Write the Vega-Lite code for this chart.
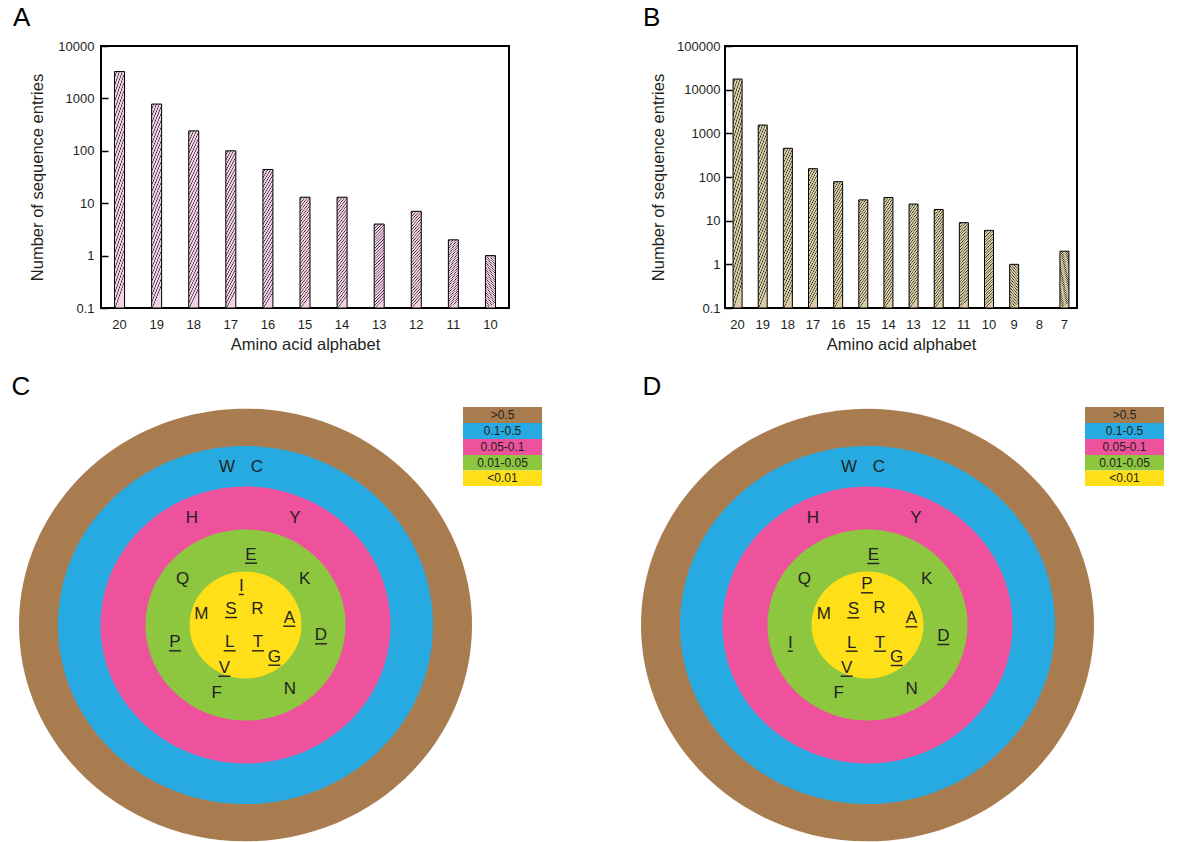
{
  "$schema": "https://vega.github.io/schema/vega-lite/v6.json",
  "background": "white",
  "padding": {"left": 11, "top": 4, "right": 0, "bottom": 0},
  "config": {
    "font": "Liberation Sans",
    "axis": {"labelFont": "Liberation Sans", "titleFont": "Liberation Sans", "labelFontSize": 13, "titleFontSize": 16.5, "titleFontWeight": "normal", "labelColor": "#231F20", "titleColor": "#231F20", "tickColor": "black", "tickWidth": 1.5, "grid": false},
    "title": {"font": "Liberation Sans", "fontWeight": "normal", "color": "black"}
  },
  "datasets": {
    "barsA": [
      {"alphabet": "20", "entries": 3250}, {"alphabet": "19", "entries": 780}, {"alphabet": "18", "entries": 240},
      {"alphabet": "17", "entries": 100}, {"alphabet": "16", "entries": 44}, {"alphabet": "15", "entries": 13},
      {"alphabet": "14", "entries": 13}, {"alphabet": "13", "entries": 4}, {"alphabet": "12", "entries": 7},
      {"alphabet": "11", "entries": 2}, {"alphabet": "10", "entries": 1}
    ],
    "barsB": [
      {"alphabet": "20", "entries": 17500}, {"alphabet": "19", "entries": 1550}, {"alphabet": "18", "entries": 455},
      {"alphabet": "17", "entries": 155}, {"alphabet": "16", "entries": 78}, {"alphabet": "15", "entries": 30},
      {"alphabet": "14", "entries": 34}, {"alphabet": "13", "entries": 24}, {"alphabet": "12", "entries": 18},
      {"alphabet": "11", "entries": 9}, {"alphabet": "10", "entries": 6}, {"alphabet": "9", "entries": 1},
      {"alphabet": "8", "entries": null}, {"alphabet": "7", "entries": 2}
    ],
    "rings": [
      {"panel": "C", "level": ">0.5", "u": 0, "v": 0, "r": 1},
      {"panel": "C", "level": "0.1-0.5", "u": 0, "v": 0, "r": 0.8278},
      {"panel": "C", "level": "0.05-0.1", "u": 0, "v": 0, "r": 0.6402},
      {"panel": "C", "level": "0.01-0.05", "u": 0, "v": 0, "r": 0.4415},
      {"panel": "C", "level": "<0.01", "u": 0, "v": 0, "r": 0.2472},
      {"panel": "D", "level": ">0.5", "u": 2.7461, "v": 0, "r": 1},
      {"panel": "D", "level": "0.1-0.5", "u": 2.7461, "v": 0, "r": 0.8278},
      {"panel": "D", "level": "0.05-0.1", "u": 2.7461, "v": 0, "r": 0.6402},
      {"panel": "D", "level": "0.01-0.05", "u": 2.7461, "v": 0, "r": 0.4415},
      {"panel": "D", "level": "<0.01", "u": 2.7461, "v": 0, "r": 0.2472}
    ],
    "legend": [
      {"panel": "C", "level": ">0.5", "u": 0.9603, "u2": 1.3091, "v": 0.9625, "v2": 0.8918, "um": 1.1347, "vm": 0.9272},
      {"panel": "C", "level": "0.1-0.5", "u": 0.9603, "u2": 1.3091, "v": 0.8918, "v2": 0.8212, "um": 1.1347, "vm": 0.8565},
      {"panel": "C", "level": "0.05-0.1", "u": 0.9603, "u2": 1.3091, "v": 0.8212, "v2": 0.7506, "um": 1.1347, "vm": 0.7859},
      {"panel": "C", "level": "0.01-0.05", "u": 0.9603, "u2": 1.3091, "v": 0.7506, "v2": 0.6821, "um": 1.1347, "vm": 0.7164},
      {"panel": "C", "level": "<0.01", "u": 0.9603, "u2": 1.3091, "v": 0.6821, "v2": 0.6137, "um": 1.1347, "vm": 0.6479},
      {"panel": "D", "level": ">0.5", "u": 3.7064, "u2": 4.0552, "v": 0.9625, "v2": 0.8918, "um": 3.8808, "vm": 0.9272},
      {"panel": "D", "level": "0.1-0.5", "u": 3.7064, "u2": 4.0552, "v": 0.8918, "v2": 0.8212, "um": 3.8808, "vm": 0.8565},
      {"panel": "D", "level": "0.05-0.1", "u": 3.7064, "u2": 4.0552, "v": 0.8212, "v2": 0.7506, "um": 3.8808, "vm": 0.7859},
      {"panel": "D", "level": "0.01-0.05", "u": 3.7064, "u2": 4.0552, "v": 0.7506, "v2": 0.6821, "um": 3.8808, "vm": 0.7164},
      {"panel": "D", "level": "<0.01", "u": 3.7064, "u2": 4.0552, "v": 0.6821, "v2": 0.6137, "um": 3.8808, "vm": 0.6479}
    ],
    "letters": [
      {"panel": "C", "letter": "W", "u": -0.0817, "v": 0.6976, "ul": false},
      {"panel": "C", "letter": "C", "u": 0.0508, "v": 0.6976, "ul": false},
      {"panel": "C", "letter": "H", "u": -0.2362, "v": 0.4724, "ul": false},
      {"panel": "C", "letter": "Y", "u": 0.2185, "v": 0.4724, "ul": false},
      {"panel": "C", "letter": "E", "u": 0.0243, "v": 0.3104, "ul": true},
      {"panel": "C", "letter": "Q", "u": -0.2773, "v": 0.2018, "ul": false},
      {"panel": "C", "letter": "K", "u": 0.2614, "v": 0.2044, "ul": false},
      {"panel": "C", "letter": "I", "u": -0.0185, "v": 0.1722, "ul": true},
      {"panel": "C", "letter": "M", "u": -0.1951, "v": 0.0486, "ul": false},
      {"panel": "C", "letter": "S", "u": -0.064, "v": 0.0706, "ul": true},
      {"panel": "C", "letter": "R", "u": 0.0521, "v": 0.072, "ul": false},
      {"panel": "C", "letter": "A", "u": 0.1934, "v": 0.0322, "ul": true},
      {"panel": "C", "letter": "P", "u": -0.3113, "v": -0.0764, "ul": true},
      {"panel": "C", "letter": "D", "u": 0.3333, "v": -0.0455, "ul": true},
      {"panel": "C", "letter": "L", "u": -0.0698, "v": -0.0764, "ul": true},
      {"panel": "C", "letter": "T", "u": 0.0552, "v": -0.0764, "ul": true},
      {"panel": "C", "letter": "G", "u": 0.1272, "v": -0.14, "ul": true},
      {"panel": "C", "letter": "V", "u": -0.0936, "v": -0.1885, "ul": true},
      {"panel": "C", "letter": "F", "u": -0.1272, "v": -0.2989, "ul": false},
      {"panel": "C", "letter": "N", "u": 0.1965, "v": -0.2839, "ul": false},
      {"panel": "D", "letter": "W", "u": 2.6645, "v": 0.6976, "ul": false},
      {"panel": "D", "letter": "C", "u": 2.7969, "v": 0.6976, "ul": false},
      {"panel": "D", "letter": "H", "u": 2.5055, "v": 0.4724, "ul": false},
      {"panel": "D", "letter": "Y", "u": 2.9603, "v": 0.4724, "ul": false},
      {"panel": "D", "letter": "E", "u": 2.7717, "v": 0.3091, "ul": true},
      {"panel": "D", "letter": "Q", "u": 2.4671, "v": 0.2018, "ul": false},
      {"panel": "D", "letter": "K", "u": 3.0075, "v": 0.2044, "ul": false},
      {"panel": "D", "letter": "P", "u": 2.7439, "v": 0.1797, "ul": true},
      {"panel": "D", "letter": "M", "u": 2.5528, "v": 0.0472, "ul": false},
      {"panel": "D", "letter": "S", "u": 2.6834, "v": 0.0693, "ul": true},
      {"panel": "D", "letter": "R", "u": 2.7982, "v": 0.0737, "ul": false},
      {"panel": "D", "letter": "A", "u": 2.9395, "v": 0.0296, "ul": true},
      {"panel": "D", "letter": "I", "u": 2.4053, "v": -0.0781, "ul": true},
      {"panel": "D", "letter": "D", "u": 3.0808, "v": -0.0486, "ul": true},
      {"panel": "D", "letter": "L", "u": 2.6764, "v": -0.0781, "ul": true},
      {"panel": "D", "letter": "T", "u": 2.8013, "v": -0.0781, "ul": true},
      {"panel": "D", "letter": "G", "u": 2.8751, "v": -0.1413, "ul": true},
      {"panel": "D", "letter": "V", "u": 2.6543, "v": -0.1885, "ul": true},
      {"panel": "D", "letter": "F", "u": 2.619, "v": -0.2989, "ul": false},
      {"panel": "D", "letter": "N", "u": 2.9413, "v": -0.2839, "ul": false}
    ],
    "panels": [
      {"label": "C", "u": -0.9912, "v": 1.0486},
      {"label": "D", "u": 1.7947, "v": 1.0486}
    ]
  },
  "vconcat": [
    {
      "hconcat": [
        {
          "width": 408,
          "height": 262,
          "view": {"stroke": "black", "strokeWidth": 2},
          "title": {"text": "A", "anchor": "start", "frame": "group", "dx": -88, "fontSize": 26, "baseline": "alphabetic", "offset": -12},
          "data": {"name": "barsA"},
          "mark": {
            "type": "bar", "size": 10, "stroke": "black", "strokeWidth": 1,
            "fill": {"gradient": "linear", "x1": 0, "y1": 0, "x2": 0.12, "y2": 1, "stops": [
              {"offset": 0, "color": "#F1D3E5"}, {"offset": 0.0167, "color": "#F1D3E5"}, {"offset": 0.025, "color": "#2B1F27"},
              {"offset": 0.0333, "color": "#F1D3E5"}, {"offset": 0.05, "color": "#F1D3E5"}, {"offset": 0.0583, "color": "#2B1F27"},
              {"offset": 0.0667, "color": "#F1D3E5"}, {"offset": 0.0833, "color": "#F1D3E5"}, {"offset": 0.0917, "color": "#2B1F27"},
              {"offset": 0.1, "color": "#F1D3E5"}, {"offset": 0.1167, "color": "#F1D3E5"}, {"offset": 0.125, "color": "#2B1F27"},
              {"offset": 0.1333, "color": "#F1D3E5"}, {"offset": 0.15, "color": "#F1D3E5"}, {"offset": 0.1583, "color": "#2B1F27"},
              {"offset": 0.1667, "color": "#F1D3E5"}, {"offset": 0.1833, "color": "#F1D3E5"}, {"offset": 0.1917, "color": "#2B1F27"},
              {"offset": 0.2, "color": "#F1D3E5"}, {"offset": 0.2167, "color": "#F1D3E5"}, {"offset": 0.225, "color": "#2B1F27"},
              {"offset": 0.2333, "color": "#F1D3E5"}, {"offset": 0.25, "color": "#F1D3E5"}, {"offset": 0.2583, "color": "#2B1F27"},
              {"offset": 0.2667, "color": "#F1D3E5"}, {"offset": 0.2833, "color": "#F1D3E5"}, {"offset": 0.2917, "color": "#2B1F27"},
              {"offset": 0.3, "color": "#F1D3E5"}, {"offset": 0.3167, "color": "#F1D3E5"}, {"offset": 0.325, "color": "#2B1F27"},
              {"offset": 0.3333, "color": "#F1D3E5"}, {"offset": 0.35, "color": "#F1D3E5"}, {"offset": 0.3583, "color": "#2B1F27"},
              {"offset": 0.3667, "color": "#F1D3E5"}, {"offset": 0.3833, "color": "#F1D3E5"}, {"offset": 0.3917, "color": "#2B1F27"},
              {"offset": 0.4, "color": "#F1D3E5"}, {"offset": 0.4167, "color": "#F1D3E5"}, {"offset": 0.425, "color": "#2B1F27"},
              {"offset": 0.4333, "color": "#F1D3E5"}, {"offset": 0.45, "color": "#F1D3E5"}, {"offset": 0.4583, "color": "#2B1F27"},
              {"offset": 0.4667, "color": "#F1D3E5"}, {"offset": 0.4833, "color": "#F1D3E5"}, {"offset": 0.4917, "color": "#2B1F27"},
              {"offset": 0.5, "color": "#F1D3E5"}, {"offset": 0.5167, "color": "#F1D3E5"}, {"offset": 0.525, "color": "#2B1F27"},
              {"offset": 0.5333, "color": "#F1D3E5"}, {"offset": 0.55, "color": "#F1D3E5"}, {"offset": 0.5583, "color": "#2B1F27"},
              {"offset": 0.5667, "color": "#F1D3E5"}, {"offset": 0.5833, "color": "#F1D3E5"}, {"offset": 0.5917, "color": "#2B1F27"},
              {"offset": 0.6, "color": "#F1D3E5"}, {"offset": 0.6167, "color": "#F1D3E5"}, {"offset": 0.625, "color": "#2B1F27"},
              {"offset": 0.6333, "color": "#F1D3E5"}, {"offset": 0.65, "color": "#F1D3E5"}, {"offset": 0.6583, "color": "#2B1F27"},
              {"offset": 0.6667, "color": "#F1D3E5"}, {"offset": 0.6833, "color": "#F1D3E5"}, {"offset": 0.6917, "color": "#2B1F27"},
              {"offset": 0.7, "color": "#F1D3E5"}, {"offset": 0.7167, "color": "#F1D3E5"}, {"offset": 0.725, "color": "#2B1F27"},
              {"offset": 0.7333, "color": "#F1D3E5"}, {"offset": 0.75, "color": "#F1D3E5"}, {"offset": 0.7583, "color": "#2B1F27"},
              {"offset": 0.7667, "color": "#F1D3E5"}, {"offset": 0.7833, "color": "#F1D3E5"}, {"offset": 0.7917, "color": "#2B1F27"},
              {"offset": 0.8, "color": "#F1D3E5"}, {"offset": 0.8167, "color": "#F1D3E5"}, {"offset": 0.825, "color": "#2B1F27"},
              {"offset": 0.8333, "color": "#F1D3E5"}, {"offset": 0.85, "color": "#F1D3E5"}, {"offset": 0.8583, "color": "#2B1F27"},
              {"offset": 0.8667, "color": "#F1D3E5"}, {"offset": 0.8833, "color": "#F1D3E5"}, {"offset": 0.8917, "color": "#2B1F27"},
              {"offset": 0.9, "color": "#F1D3E5"}, {"offset": 0.9167, "color": "#F1D3E5"}, {"offset": 0.925, "color": "#2B1F27"},
              {"offset": 0.9333, "color": "#F1D3E5"}, {"offset": 0.95, "color": "#F1D3E5"}, {"offset": 0.9583, "color": "#2B1F27"},
              {"offset": 0.9667, "color": "#F1D3E5"}, {"offset": 0.9833, "color": "#F1D3E5"}, {"offset": 0.9917, "color": "#2B1F27"},
              {"offset": 1, "color": "#F1D3E5"}
            ]}
          },
          "encoding": {
            "x": {"field": "alphabet", "type": "ordinal", "sort": null,
              "scale": {"domain": ["20", "19", "18", "17", "16", "15", "14", "13", "12", "11", "10"], "paddingInner": 0, "paddingOuter": 0},
              "axis": {"title": "Amino acid alphabet", "labelAngle": 0, "ticks": false, "domain": false, "labelPadding": 10, "titlePadding": 5}},
            "y": {"field": "entries", "type": "quantitative",
              "scale": {"type": "log", "domain": [0.1, 10000], "nice": false},
              "axis": {"title": "Number of sequence entries", "values": [0.1, 1, 10, 100, 1000, 10000], "format": "~r", "offset": -7, "tickSize": 7, "labelPadding": 7, "titlePadding": 12, "domain": false}},
            "y2": {"datum": 0.1}
          }
        },
        {
          "width": 352,
          "height": 262,
          "view": {"stroke": "black", "strokeWidth": 2},
          "title": {"text": "B", "anchor": "start", "frame": "group", "dx": -82, "fontSize": 26, "baseline": "alphabetic", "offset": -12},
          "data": {"name": "barsB"},
          "mark": {
            "type": "bar", "size": 9, "stroke": "black", "strokeWidth": 1,
            "fill": {"gradient": "linear", "x1": 0, "y1": 0, "x2": 0.12, "y2": 1, "stops": [
              {"offset": 0, "color": "#D8CDA5"}, {"offset": 0.0167, "color": "#D8CDA5"}, {"offset": 0.025, "color": "#262218"},
              {"offset": 0.0333, "color": "#D8CDA5"}, {"offset": 0.05, "color": "#D8CDA5"}, {"offset": 0.0583, "color": "#262218"},
              {"offset": 0.0667, "color": "#D8CDA5"}, {"offset": 0.0833, "color": "#D8CDA5"}, {"offset": 0.0917, "color": "#262218"},
              {"offset": 0.1, "color": "#D8CDA5"}, {"offset": 0.1167, "color": "#D8CDA5"}, {"offset": 0.125, "color": "#262218"},
              {"offset": 0.1333, "color": "#D8CDA5"}, {"offset": 0.15, "color": "#D8CDA5"}, {"offset": 0.1583, "color": "#262218"},
              {"offset": 0.1667, "color": "#D8CDA5"}, {"offset": 0.1833, "color": "#D8CDA5"}, {"offset": 0.1917, "color": "#262218"},
              {"offset": 0.2, "color": "#D8CDA5"}, {"offset": 0.2167, "color": "#D8CDA5"}, {"offset": 0.225, "color": "#262218"},
              {"offset": 0.2333, "color": "#D8CDA5"}, {"offset": 0.25, "color": "#D8CDA5"}, {"offset": 0.2583, "color": "#262218"},
              {"offset": 0.2667, "color": "#D8CDA5"}, {"offset": 0.2833, "color": "#D8CDA5"}, {"offset": 0.2917, "color": "#262218"},
              {"offset": 0.3, "color": "#D8CDA5"}, {"offset": 0.3167, "color": "#D8CDA5"}, {"offset": 0.325, "color": "#262218"},
              {"offset": 0.3333, "color": "#D8CDA5"}, {"offset": 0.35, "color": "#D8CDA5"}, {"offset": 0.3583, "color": "#262218"},
              {"offset": 0.3667, "color": "#D8CDA5"}, {"offset": 0.3833, "color": "#D8CDA5"}, {"offset": 0.3917, "color": "#262218"},
              {"offset": 0.4, "color": "#D8CDA5"}, {"offset": 0.4167, "color": "#D8CDA5"}, {"offset": 0.425, "color": "#262218"},
              {"offset": 0.4333, "color": "#D8CDA5"}, {"offset": 0.45, "color": "#D8CDA5"}, {"offset": 0.4583, "color": "#262218"},
              {"offset": 0.4667, "color": "#D8CDA5"}, {"offset": 0.4833, "color": "#D8CDA5"}, {"offset": 0.4917, "color": "#262218"},
              {"offset": 0.5, "color": "#D8CDA5"}, {"offset": 0.5167, "color": "#D8CDA5"}, {"offset": 0.525, "color": "#262218"},
              {"offset": 0.5333, "color": "#D8CDA5"}, {"offset": 0.55, "color": "#D8CDA5"}, {"offset": 0.5583, "color": "#262218"},
              {"offset": 0.5667, "color": "#D8CDA5"}, {"offset": 0.5833, "color": "#D8CDA5"}, {"offset": 0.5917, "color": "#262218"},
              {"offset": 0.6, "color": "#D8CDA5"}, {"offset": 0.6167, "color": "#D8CDA5"}, {"offset": 0.625, "color": "#262218"},
              {"offset": 0.6333, "color": "#D8CDA5"}, {"offset": 0.65, "color": "#D8CDA5"}, {"offset": 0.6583, "color": "#262218"},
              {"offset": 0.6667, "color": "#D8CDA5"}, {"offset": 0.6833, "color": "#D8CDA5"}, {"offset": 0.6917, "color": "#262218"},
              {"offset": 0.7, "color": "#D8CDA5"}, {"offset": 0.7167, "color": "#D8CDA5"}, {"offset": 0.725, "color": "#262218"},
              {"offset": 0.7333, "color": "#D8CDA5"}, {"offset": 0.75, "color": "#D8CDA5"}, {"offset": 0.7583, "color": "#262218"},
              {"offset": 0.7667, "color": "#D8CDA5"}, {"offset": 0.7833, "color": "#D8CDA5"}, {"offset": 0.7917, "color": "#262218"},
              {"offset": 0.8, "color": "#D8CDA5"}, {"offset": 0.8167, "color": "#D8CDA5"}, {"offset": 0.825, "color": "#262218"},
              {"offset": 0.8333, "color": "#D8CDA5"}, {"offset": 0.85, "color": "#D8CDA5"}, {"offset": 0.8583, "color": "#262218"},
              {"offset": 0.8667, "color": "#D8CDA5"}, {"offset": 0.8833, "color": "#D8CDA5"}, {"offset": 0.8917, "color": "#262218"},
              {"offset": 0.9, "color": "#D8CDA5"}, {"offset": 0.9167, "color": "#D8CDA5"}, {"offset": 0.925, "color": "#262218"},
              {"offset": 0.9333, "color": "#D8CDA5"}, {"offset": 0.95, "color": "#D8CDA5"}, {"offset": 0.9583, "color": "#262218"},
              {"offset": 0.9667, "color": "#D8CDA5"}, {"offset": 0.9833, "color": "#D8CDA5"}, {"offset": 0.9917, "color": "#262218"},
              {"offset": 1, "color": "#D8CDA5"}
            ]}
          },
          "encoding": {
            "x": {"field": "alphabet", "type": "ordinal", "sort": null,
              "scale": {"domain": ["20", "19", "18", "17", "16", "15", "14", "13", "12", "11", "10", "9", "8", "7"], "paddingInner": 0, "paddingOuter": 0},
              "axis": {"title": "Amino acid alphabet", "labelAngle": 0, "ticks": false, "domain": false, "labelPadding": 10, "titlePadding": 5}},
            "y": {"field": "entries", "type": "quantitative",
              "scale": {"type": "log", "domain": [0.1, 100000], "nice": false},
              "axis": {"title": "Number of sequence entries", "values": [0.1, 1, 10, 100, 1000, 10000, 100000], "format": "~r", "offset": -7, "tickSize": 7, "labelPadding": 5, "titlePadding": 10, "domain": false}},
            "y2": {"datum": 0.1}
          }
        }
      ],
      "spacing": 132
    },
    {
      "width": 1081,
      "height": 468,
      "view": {"stroke": null},
      "layer": [
        {
          "data": {"name": "rings"},
          "mark": {"type": "point", "filled": true, "opacity": 1, "strokeWidth": 0, "clip": false,
            "shape": "M1,0C1,0.5274,0.5523,0.955,0,0.955C-0.5523,0.955,-1,0.5274,-1,0C-1,-0.5274,-0.5523,-0.955,0,-0.955C0.5523,-0.955,1,-0.5274,1,0Z"},
          "encoding": {
            "x": {"field": "u", "type": "quantitative", "scale": {"domain": [-0.638, 4.1346], "nice": false, "zero": false}, "axis": null},
            "y": {"field": "v", "type": "quantitative", "scale": {"domain": [-0.9536, 1.1126], "nice": false, "zero": false}, "axis": null},
            "size": {"field": "r", "type": "quantitative", "scale": {"type": "pow", "exponent": 2, "domain": [0, 1], "range": [0, 205209]}, "legend": null},
            "color": {"field": "level", "type": "nominal", "scale": {"domain": [">0.5", "0.1-0.5", "0.05-0.1", "0.01-0.05", "<0.01"], "range": ["#A97C50", "#27AAE1", "#EE529C", "#8DC63F", "#FFDF17"]}, "legend": null}
          }
        },
        {
          "data": {"name": "legend"},
          "mark": {"type": "rect"},
          "encoding": {
            "x": {"field": "u", "type": "quantitative", "scale": {"domain": [-0.638, 4.1346], "nice": false, "zero": false}, "axis": null},
            "x2": {"field": "u2"},
            "y": {"field": "v", "type": "quantitative", "scale": {"domain": [-0.9536, 1.1126], "nice": false, "zero": false}, "axis": null},
            "y2": {"field": "v2"},
            "color": {"field": "level", "type": "nominal", "scale": {"domain": [">0.5", "0.1-0.5", "0.05-0.1", "0.01-0.05", "<0.01"], "range": ["#A97C50", "#27AAE1", "#EE529C", "#8DC63F", "#FFDF17"]}, "legend": null}
          }
        },
        {
          "data": {"name": "legend"},
          "mark": {"type": "text", "fontSize": 12, "color": "#231F20", "align": "center", "baseline": "middle"},
          "encoding": {
            "x": {"field": "um", "type": "quantitative", "scale": {"domain": [-0.638, 4.1346], "nice": false, "zero": false}, "axis": null},
            "y": {"field": "vm", "type": "quantitative", "scale": {"domain": [-0.9536, 1.1126], "nice": false, "zero": false}, "axis": null},
            "text": {"field": "level"}
          }
        },
        {
          "data": {"name": "letters"},
          "mark": {"type": "text", "fontSize": 17, "color": "#231F20", "align": "center", "baseline": "middle"},
          "encoding": {
            "x": {"field": "u", "type": "quantitative", "scale": {"domain": [-0.638, 4.1346], "nice": false, "zero": false}, "axis": null},
            "y": {"field": "v", "type": "quantitative", "scale": {"domain": [-0.9536, 1.1126], "nice": false, "zero": false}, "axis": null},
            "text": {"field": "letter"}
          }
        },
        {
          "data": {"name": "letters"},
          "transform": [{"filter": "datum.ul && datum.letter != 'I'"}],
          "mark": {"type": "rule", "color": "#231F20", "strokeWidth": 1.4, "xOffset": -6, "x2Offset": 6, "yOffset": 8.5},
          "encoding": {
            "x": {"field": "u", "type": "quantitative", "scale": {"domain": [-0.638, 4.1346], "nice": false, "zero": false}, "axis": null},
            "x2": {"field": "u"},
            "y": {"field": "v", "type": "quantitative", "scale": {"domain": [-0.9536, 1.1126], "nice": false, "zero": false}, "axis": null}
          }
        },
        {
          "data": {"name": "letters"},
          "transform": [{"filter": "datum.ul && datum.letter == 'I'"}],
          "mark": {"type": "rule", "color": "#231F20", "strokeWidth": 1.4, "xOffset": -2.5, "x2Offset": 2.5, "yOffset": 8.5},
          "encoding": {
            "x": {"field": "u", "type": "quantitative", "scale": {"domain": [-0.638, 4.1346], "nice": false, "zero": false}, "axis": null},
            "x2": {"field": "u"},
            "y": {"field": "v", "type": "quantitative", "scale": {"domain": [-0.9536, 1.1126], "nice": false, "zero": false}, "axis": null}
          }
        },
        {
          "data": {"name": "panels"},
          "mark": {"type": "text", "fontSize": 26, "color": "black", "align": "center", "baseline": "middle"},
          "encoding": {
            "x": {"field": "u", "type": "quantitative", "scale": {"domain": [-0.638, 4.1346], "nice": false, "zero": false}, "axis": null},
            "y": {"field": "v", "type": "quantitative", "scale": {"domain": [-0.9536, 1.1126], "nice": false, "zero": false}, "axis": null},
            "text": {"field": "label"}
          }
        }
      ]
    }
  ],
  "spacing": 19
}
